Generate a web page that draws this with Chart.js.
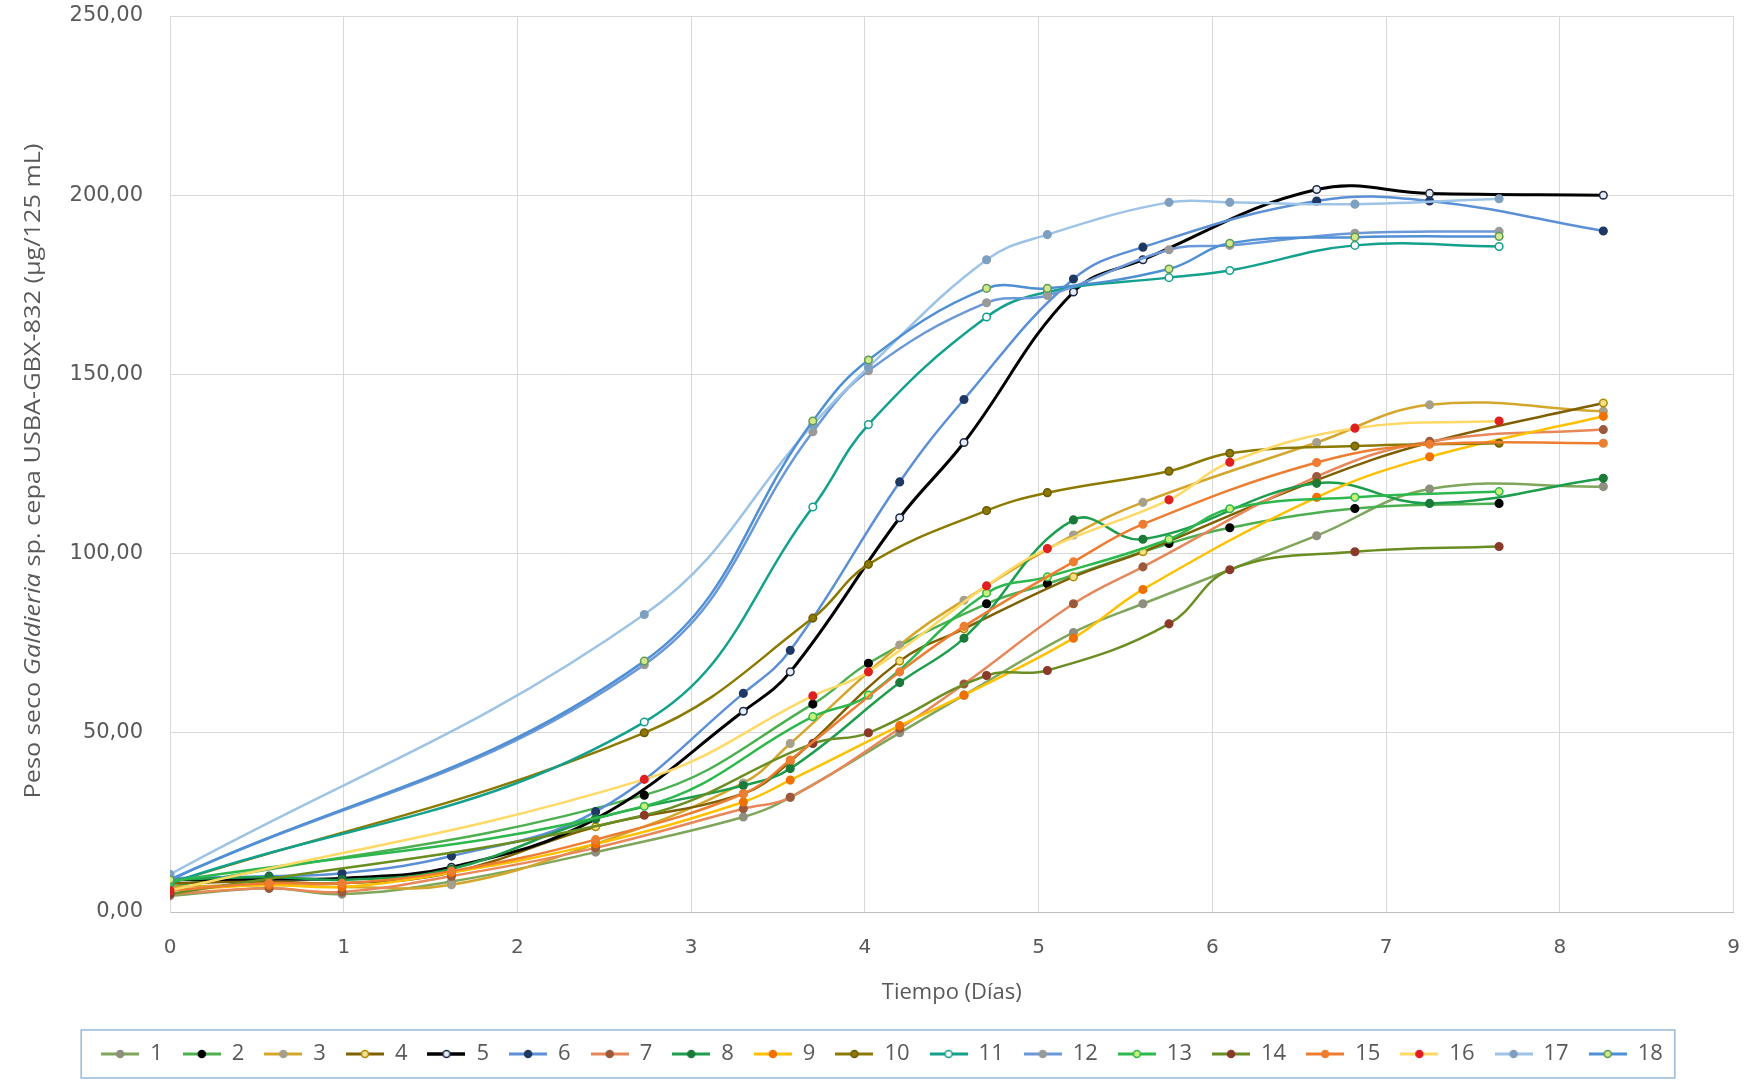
<!DOCTYPE html>
<html>

<head>
    <meta charset="utf-8">
    <title>Peso seco Galdieria sp.</title>
    <style>
        html, body { margin: 0; padding: 0; background: #fff; }
        #wrap { width: 1764px; height: 1080px; }
    </style>
</head>

<body>
    <div id="wrap">
        <canvas id="myChart"></canvas>
    </div>

    <script src="https://cdn.jsdelivr.net/npm/chart.js"></script>

    <script>
        // sampling times (days), two groups of cultures
        const timesA = [0, 0.57, 0.99, 1.62, 2.45, 3.3, 3.57, 4.2, 4.57, 5.2, 5.6, 6.6, 7.25, 8.25];
        const timesB = [0, 2.73, 3.7, 4.02, 4.7, 5.05, 5.75, 6.1, 6.82, 7.65];

        // dry weight (µg/125 mL) per culture
        const s1 = [4.5, 6.6, 5, 8.5, 16.7, 26.5, 32, 50, 60.5, 78, 86, 105, 118, 118.7];
        const s2 = [7, 32.6, 58, 69.4, 86, 91.6, 102.8, 107.2, 112.6, 114];
        const s3 = [7, 7.5, 7, 7.6, 19, 36, 47, 74.5, 87, 105.2, 114.3, 131, 141.5, 139.7];
        const s4 = [8, 8.5, 8, 11, 23.8, 33, 42, 70, 79, 93.5, 100.5, 120.5, 131, 142];
        const s5 = [9, 9.2, 9.4, 12.5, 26, 56, 67, 110, 131, 173, 182, 201.6, 200.5, 200];
        const s6 = [9.5, 10, 10.8, 15.6, 28, 61, 73, 120, 143, 176.6, 185.5, 198.4, 198.4, 190];
        const s7 = [5, 6.6, 5.6, 10, 17.9, 28.8, 32, 51.2, 63.6, 86, 96.3, 121.5, 131.3, 134.6];
        const s8 = [9, 9.8, 9, 12, 26, 35.3, 40, 64, 76.4, 109.4, 104, 119.6, 114, 121];
        const s9 = [6, 7.5, 7, 11, 19, 30.7, 36.8, 52, 60.5, 76.4, 90, 115.7, 127, 138.3];
        const s10 = [8, 50, 82, 97, 112, 117, 123, 128, 130, 130.8];
        const s11 = [8, 53, 113, 136, 166, 173, 177, 179, 186, 185.7];
        const s12 = [9, 69, 134, 151, 170, 172, 184.8, 186, 189.4, 189.9];
        const s13 = [8.5, 29.5, 54.5, 60.5, 89, 93.5, 104, 112.5, 115.7, 117.3];
        const s14 = [5, 27, 47, 50, 66, 67.4, 80.4, 95.5, 100.5, 102];
        const s15 = [6, 8, 8, 11.4, 20.2, 33, 42.4, 67, 79.7, 97.7, 108.2, 125.4, 130.5, 130.8];
        const s16 = [6, 37, 60.3, 67, 91, 101.4, 115, 125.5, 135, 137];
        const s17 = [10.5, 83, 136, 152, 182, 189, 198, 198, 197.5, 199];
        const s18 = [9, 70, 137, 154, 174, 174, 179.4, 186.6, 188.3, 188.5];

        const seriesNames = ['1', '2', '3', '4', '5', '6', '7', '8', '9', '10', '11', '12', '13', '14', '15', '16', '17', '18'];
        const seriesValues = [s1, s2, s3, s4, s5, s6, s7, s8, s9, s10, s11, s12, s13, s14, s15, s16, s17, s18];
        const seriesTimes = [timesA, timesB, timesA, timesA, timesA, timesA, timesA, timesA, timesA,
            timesB, timesB, timesB, timesB, timesB, timesA, timesB, timesB, timesB];

        const yTicks = [0, 50, 100, 150, 200, 250];

        const lineColors = ['#7fa65a', '#4caf50', '#d4a72c', '#7f6000', '#000000', '#5b8fd6',
            '#e8875a', '#1e9e4c', '#ffc000', '#8c7a00', '#13a08c', '#6a98d8',
            '#2cb84c', '#6b8e23', '#ed7d31', '#ffd966', '#9dc3e6', '#4f8fd4'];
        const markerFill = ['#8f8f80', '#000000', '#a6a08a', '#f2e08a', '#e8eef8', '#1f3864',
            '#9c5a3c', '#1b7a3a', '#f07000', '#8c7a00', '#ffffff', '#9a9a9a',
            '#c9f07a', '#8b3a2a', '#ed7d31', '#e02020', '#7f9fc0', '#d4e88a'];
        const markerBorder = ['#8f8f80', '#000000', '#a6a08a', '#b08c00', '#1f2a44', '#1f3864',
            '#9c5a3c', '#1b7a3a', '#f07000', '#6b5a00', '#13a08c', '#9a9a9a',
            '#2cb84c', '#8b3a2a', '#ed7d31', '#e02020', '#7f9fc0', '#5a9a5a'];

        const makeIcon = function (i) {
            const c = document.createElement('canvas');
            c.width = 38;
            c.height = 12;
            const g = c.getContext('2d');
            g.strokeStyle = lineColors[i];
            g.lineWidth = i === 4 ? 3.5 : 3;
            g.beginPath();
            g.moveTo(0, 6);
            g.lineTo(38, 6);
            g.stroke();
            g.beginPath();
            g.arc(19, 6, 3.5, 0, Math.PI * 2);
            g.fillStyle = markerFill[i];
            g.fill();
            g.lineWidth = 1.5;
            g.strokeStyle = markerBorder[i];
            g.stroke();
            return c;
        }
        const legendIcons = seriesNames.map((n, i) => makeIcon(i));

        const datasets = [];
        for (let i = 0; i < seriesNames.length; i++) {
            datasets.push({
                label: seriesNames[i],
                data: seriesValues[i].map((v, j) => ({ x: seriesTimes[i][j], y: v })),
                showLine: true,
                borderColor: lineColors[i],
                borderWidth: i === 4 ? 3 : 2.5,
                tension: 0.4,
                pointRadius: 3.8,
                pointBorderWidth: 1.5,
                pointBackgroundColor: markerFill[i],
                pointBorderColor: markerBorder[i],
                order: seriesNames.length - i
            })
        }

        const grey = '#595959';

        const yTitle = {
            id: 'yTitle',
            afterDraw(chart) {
                const ctx = chart.ctx;
                const parts = [
                    ['Peso seco ', 'normal'],
                    ['Galdieria', 'italic'],
                    [' sp. cepa USBA-GBX-832 (µg/125 mL)', 'normal']
                ];
                const size = 21;
                ctx.save();
                let total = 0;
                parts.forEach(p => {
                    ctx.font = p[1] + ' ' + size + 'px "Open Sans"';
                    total += ctx.measureText(p[0]).width;
                });
                ctx.translate(34, 471);
                ctx.rotate(-Math.PI / 2);
                const k = 655 / total;
                ctx.scale(k, 1);
                ctx.fillStyle = grey;
                ctx.textBaseline = 'middle';
                let x = -total / 2;
                parts.forEach(p => {
                    ctx.font = p[1] + ' ' + size + 'px "Open Sans"';
                    ctx.fillText(p[0], x, 0);
                    x += ctx.measureText(p[0]).width;
                });
                ctx.restore();
            }
        };

        const legendBorder = {
            id: 'legendBorder',
            afterDraw(chart) {
                const boxes = chart.legend.legendHitBoxes;
                if (!boxes || !boxes.length) return;
                let minX = Infinity, maxX = -Infinity, cy = 0;
                boxes.forEach(b => {
                    minX = Math.min(minX, b.left);
                    maxX = Math.max(maxX, b.left + b.width);
                    cy = b.top + b.height / 2;
                });
                const ctx = chart.ctx;
                ctx.save();
                ctx.strokeStyle = '#9ab9dc';
                ctx.lineWidth = 1.5;
                ctx.strokeRect(minX - 20, cy - 24, maxX - minX + 32, 48);
                ctx.restore();
            }
        };

        const config = {
            type: 'scatter',
            data: { datasets: datasets },
            options: {
                responsive: true,
                maintainAspectRatio: false,
                animation: false,
                layout: {
                    padding: { top: 16, right: 19, left: 19, bottom: 5 }
                },
                plugins: {
                    tooltip: { enabled: false },
                    legend: {
                        position: 'bottom',
                        labels: {
                            usePointStyle: true,
                            pointStyleWidth: 38,
                            boxHeight: 12,
                            padding: 20,
                            color: grey,
                            font: { family: '"Open Sans"', size: 22 },
                            sort: (a, b) => a.datasetIndex - b.datasetIndex,
                            generateLabels(chart) {
                                const items = Chart.defaults.plugins.legend.labels.generateLabels(chart);
                                items.forEach(it => { it.pointStyle = legendIcons[it.datasetIndex]; });
                                return items;
                            }
                        }
                    }
                },
                scales: {
                    x: {
                        type: 'linear',
                        min: 0,
                        max: 9,
                        afterFit(scale) { scale.height = 111; },
                        grid: { color: '#d9d9d9', drawTicks: false, tickLength: 0 },
                        border: { color: '#bfbfbf' },
                        ticks: {
                            stepSize: 1,
                            padding: 24,
                            color: grey,
                            font: { family: '"DejaVu Sans"', size: 20 },
                            callback: (v) => v.toString()
                        },
                        title: {
                            display: true,
                            text: 'Tiempo (Días)',
                            color: grey,
                            font: { family: '"Open Sans"', size: 22 },
                            padding: { top: 4, bottom: 17 }
                        }
                    },
                    y: {
                        min: 0,
                        max: 250,
                        afterFit(scale) {
                            scale.width = 151;
                            scale.paddingTop = 0;
                            scale.paddingBottom = 0;
                        },
                        afterBuildTicks(scale) { scale.ticks = yTicks.map(v => ({ value: v })); },
                        grid: { color: '#d9d9d9', drawTicks: false, tickLength: 0 },
                        border: { color: '#d9d9d9' },
                        ticks: {
                            padding: 27,
                            color: grey,
                            font: { family: '"DejaVu Sans"', size: 21 },
                            callback: (v) => v.toFixed(2).replace('.', ',')
                        }
                    }
                }
            },
            plugins: [yTitle, legendBorder]
        };

        const ctx = document.getElementById('myChart');
        new Chart(ctx, config);
    </script>

</body>

</html>
